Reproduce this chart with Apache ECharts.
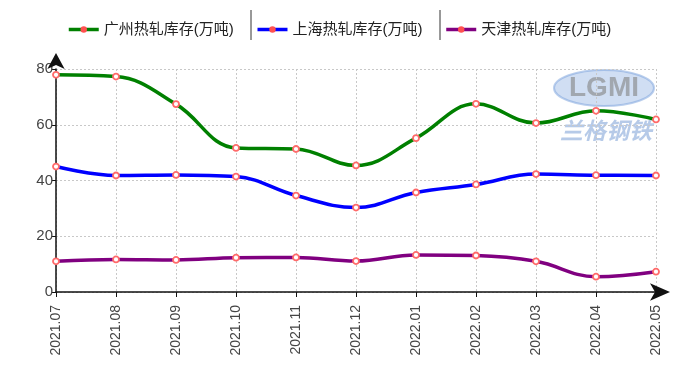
<!DOCTYPE html>
<html><head><meta charset="utf-8">
<script src="https://cdn.jsdelivr.net/npm/echarts@6/dist/echarts.min.js"></script>
<style>html,body{margin:0;padding:0;background:#fff}#c{width:693px;height:382px}</style>
</head><body><div id="c"></div>
<script>
const categories = ['2021.07','2021.08','2021.09','2021.10','2021.11','2021.12','2022.01','2022.02','2022.03','2022.04','2022.05'];
const guangzhou = [77.9, 77.3, 67.4, 51.7, 51.3, 45.4, 55.2, 67.5, 60.6, 65.0, 61.9];
const shanghai  = [45.0, 41.8, 42.0, 41.4, 34.6, 30.3, 35.7, 38.6, 42.3, 41.9, 41.8];
const tianjin   = [11.0, 11.7, 11.5, 12.3, 12.4, 11.1, 13.3, 13.1, 11.0, 5.5, 7.3];
const seriesNames = ['广州热轧库存(万吨)','上海热轧库存(万吨)','天津热轧库存(万吨)'];
const yTicks = [0, 20, 40, 60, 80];

const colors = ['#008000','#0000ff','#800080'];
const font = '"Liberation Sans", "Noto Sans CJK SC", sans-serif';
function mk(name, data, color){
  return {
    name, type:'line', data, smooth:0.4,
    symbol:'circle', symbolSize:6,
    lineStyle:{color, width:3.5},
    itemStyle:{color:'#fff', borderColor:'#ff6a6a', borderWidth:1.8},
    emphasis:{disabled:true}
  };
}
const chart = echarts.init(document.getElementById('c'), null, {renderer:'canvas'});
chart.setOption({
  animation:false,
  backgroundColor:'#fff',
  legend:{
    top:17, left:62, itemGap:22, itemWidth:30, itemHeight:8,
    textStyle:{fontSize:15, color:'#222', fontFamily:font},
    data: seriesNames.map((n,i)=>({name:n, itemStyle:{color:'#ff5050', borderColor:'#ff5050', borderWidth:0}, lineStyle:{color:colors[i], width:3.5}}))
  },
  grid:{left:56, right:37, top:69, bottom:90},
  xAxis:{
    type:'category', data:categories, boundaryGap:false,
    axisLine:{lineStyle:{color:'#111', width:1.5}, symbol:['none','arrow'], symbolSize:[13,20], symbolOffset:[0,14]},
    axisTick:{show:true, alignWithLabel:true, length:5, lineStyle:{color:'#111'}},
    axisLabel:{rotate:90, fontSize:14, color:'#444', fontFamily:font, margin:13},
    splitLine:{show:true, lineStyle:{color:'#c8c8c8', type:[2,2], width:1}}
  },
  yAxis:{
    type:'value', min:0, max:80, interval:20,
    axisLine:{show:true, lineStyle:{color:'#111', width:1.5}, symbol:['none','arrow'], symbolSize:[13,16], symbolOffset:[0,16]},
    axisTick:{show:true, length:4, lineStyle:{color:'#111'}},
    axisLabel:{fontSize:15, color:'#444', fontFamily:font, margin:3,
      formatter:v=> yTicks.includes(v) ? String(v) : ''},
    splitLine:{show:true, lineStyle:{color:'#c8c8c8', type:[2,2], width:1}}
  },
  graphic:[
    {type:'line', shape:{x1:251,y1:10,x2:251,y2:40}, style:{stroke:'#333', lineWidth:1}},
    {type:'line', shape:{x1:440,y1:10,x2:440,y2:40}, style:{stroke:'#333', lineWidth:1}},
    {type:'ellipse', shape:{cx:604, cy:88, rx:50, ry:18}, style:{fill:'rgba(120,160,220,0.35)', stroke:'rgba(120,160,220,0.5)', lineWidth:2}, z:-1},
    {type:'text', x:604, y:88, style:{text:'LGMI', fill:'rgba(130,130,130,0.6)', font:'bold 28px "Liberation Sans"', align:'center', verticalAlign:'middle'}, z:-1},
    {type:'text', x:606, y:130, style:{text:'兰格钢铁', fill:'rgba(110,150,210,0.5)', font:'italic bold 23px "Noto Sans CJK SC"', align:'center', verticalAlign:'middle'}, z:-1}
  ],
  series:[
    mk(seriesNames[0], guangzhou, colors[0]),
    mk(seriesNames[1], shanghai, colors[1]),
    mk(seriesNames[2], tianjin, colors[2])
  ]
});
</script></body></html>
